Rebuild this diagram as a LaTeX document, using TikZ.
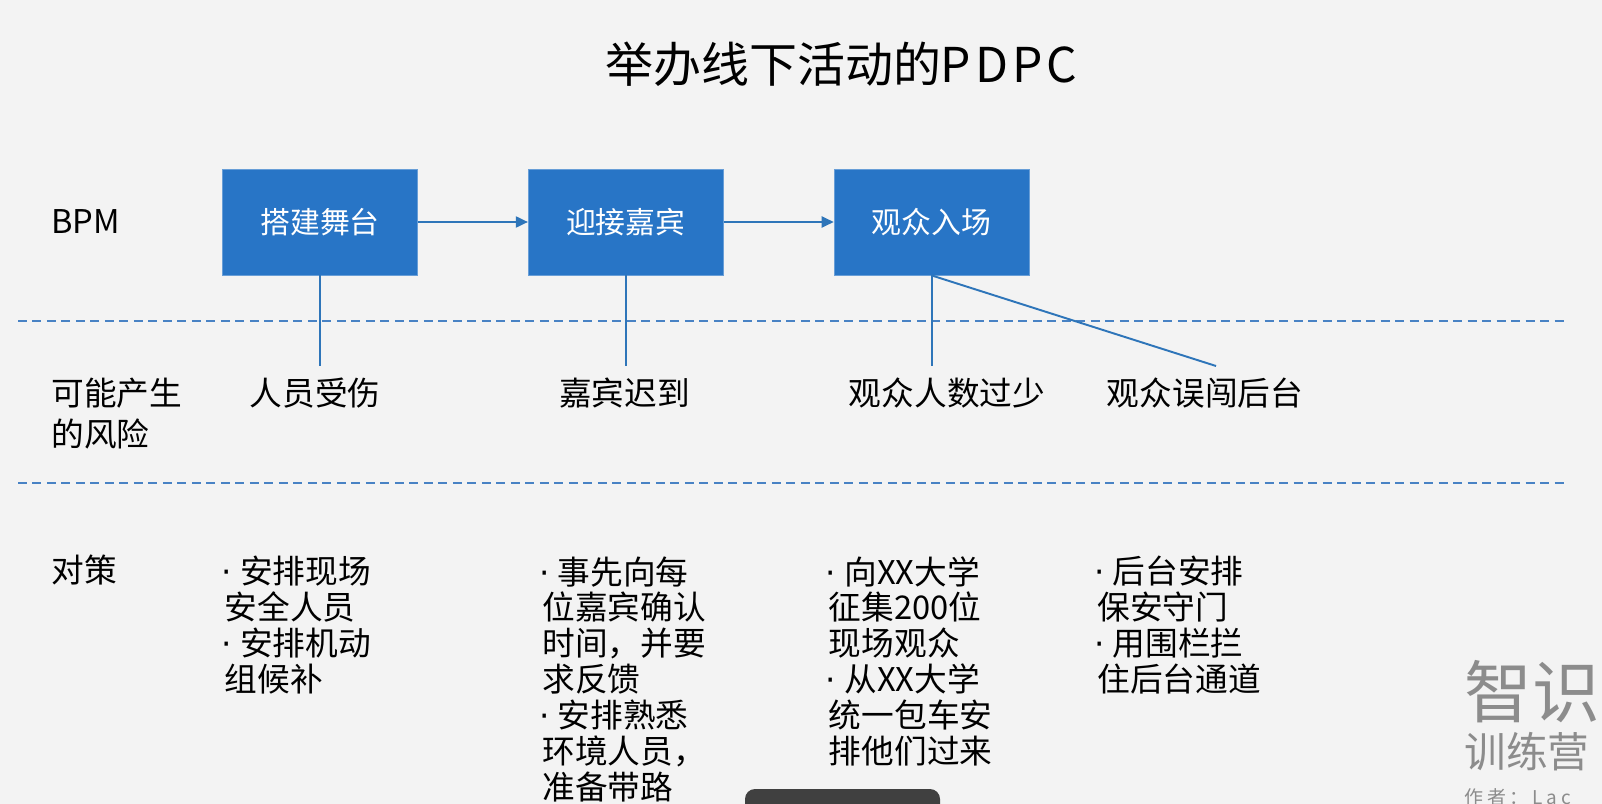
\documentclass[tikz,border=0pt]{standalone}
\usepackage{fontspec}
\setmainfont{Noto Sans CJK SC}
\newfontfamily\dotfont{DejaVu Sans}
\newcommand\itemdot{\makebox[0.47em][l]{\hspace{-0.1em}\dotfont·}}
\usetikzlibrary{positioning,arrows.meta}
\definecolor{boxblue}{RGB}{40,117,198}
\definecolor{lineblue}{RGB}{46,117,185}
\definecolor{dashblue}{RGB}{72,130,196}
\definecolor{bggray}{RGB}{243,243,243}
\definecolor{markgray}{RGB}{140,140,140}
\definecolor{bargray}{RGB}{64,64,64}

\begin{document}
\begin{tikzpicture}[x=0.02cm, y=-0.02cm,
  bpmbox/.style={rectangle, fill=boxblue, draw=boxblue!70!white, line width=0.5pt, minimum width=3.9cm, minimum height=2.12cm, text=white, font=\fontsize{17}{20}\selectfont},
  rowname/.style={anchor=west, inner sep=0pt, align=left, font=\fontsize{18.6}{23.3}\selectfont},
  riskname/.style={inner xsep=0pt, inner ysep=0.2cm, text height=16.4pt, text depth=2.2pt, font=\fontsize{18.6}{20}\selectfont},
  planlist/.style={anchor=north west, inner sep=0pt, align=left, font=\fontsize{18.6}{20.4}\selectfont},
  link/.style={draw=lineblue, line width=1.1pt},
  divider/.style={draw=dashblue, line width=1.6pt, dash pattern=on 0.18cm off 0.11cm},
  wmark/.style={anchor=west, inner sep=0pt, text=markgray}]
  \clip (0,0) rectangle (1602,804);
  \fill[bggray] (0,0) rectangle (1602,804);
  \node (title) [inner sep=0pt, text height=24pt, text depth=3.3pt, font=\fontsize{27.3}{30}\selectfont] at (841,64) {举办线下活动的{\addfontfeature{LetterSpace=8}PDPC}};
  % process steps
  \node (stage) [bpmbox] at (320,222) {搭建舞台};
  \node (guest) [bpmbox, right=2.2cm of stage] {迎接嘉宾};
  \node (entry) [bpmbox, right=2.2cm of guest] {观众入场};
  \draw[link, -{Triangle[length=0.24cm, width=0.22cm]}] (stage) -- (guest);
  \draw[link, -{Triangle[length=0.24cm, width=0.22cm]}] (guest) -- (entry);
  % row names
  \node (bpm) [rowname] at (51,222) {BPM};
  \node (risk) [rowname, anchor=north west] at (51,378) {可能产生\\的风险};
  \node (plan) [rowname] at (51,570) {对策};
  \draw[divider] (18,321) -- (1568,321);
  \draw[divider] (18,483) -- (1568,483);
  % risks
  \node (hurt) [riskname] at (315,393) {人员受伤};
  \node (late) [riskname] at (624.5,393) {嘉宾迟到};
  \node (few) [riskname] at (947,393) {观众人数过少};
  \node (sneak) [riskname] at (1205,393) {观众误闯后台};
  \coordinate (sneaktop) at (1216,366);
  \draw[link] (stage.south) -- (stage.south |- hurt.north);
  \draw[link] (guest.south) -- (guest.south |- late.north);
  \draw[link] (entry.south) -- (entry.south |- few.north);
  \draw[link] (entry.south) -- (sneaktop);
  % countermeasures
  \node (planA) [planlist] at (224.5,556) {\itemdot 安排现场\\安全人员\\\itemdot 安排机动\\组候补};
  \node (planB) [planlist] at (542,556) {\itemdot 事先向每\\位嘉宾确认\\时间，并要\\求反馈\\\itemdot 安排熟悉\\环境人员，\\准备带路};
  \node (planC) [planlist] at (828.6,556) {\itemdot 向XX大学\\征集200位\\现场观众\\\itemdot 从XX大学\\统一包车安\\排他们过来};
  \node (planD) [planlist] at (1097,556) {\itemdot 后台安排\\保安守门\\\itemdot 用围栏拦\\住后台通道};
  % watermark and player bar
  \node (wmA) [wmark, text height=34pt, text depth=4.6pt, font=\fontsize{38.6}{40}\selectfont] at (1464,692) {智识};
  \node (wmB) [wmark, text height=20.9pt, text depth=2.8pt, font=\fontsize{23.7}{25}\selectfont] at (1464,752) {训练营};
  \node (wmC) [wmark, font=\fontsize{10.8}{12}\selectfont\addfontfeature{LetterSpace=20}] at (1464,797) {作者：Lac};
  \fill[bargray, rounded corners=0.2cm] (745,789) rectangle (940,830);
\end{tikzpicture}
\end{document}
